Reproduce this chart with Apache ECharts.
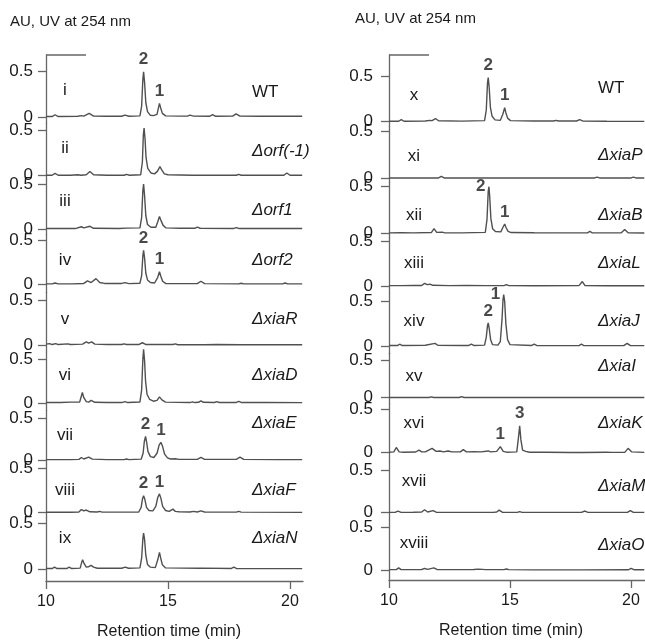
<!DOCTYPE html>
<html><head><meta charset="utf-8">
<script src="https://cdn.jsdelivr.net/npm/echarts@6/dist/echarts.min.js"></script>
<style>html,body{margin:0;padding:0;background:#fff}#c{width:645px;height:641px}</style>
</head><body><div id="c"></div>
<script>
// ---------------- DATA (retention time [min], absorbance [AU]) ----------------
const romanLeft  = ['i','ii','iii','iv','v','vi','vii','viii','ix'];
const romanRight = ['x','xi','xii','xiii','xiv','xv','xvi','xvii','xviii'];
const strainLeft  = ['WT','\u0394orf(-1)','\u0394orf1','\u0394orf2','\u0394xiaR','\u0394xiaD','\u0394xiaE','\u0394xiaF','\u0394xiaN'];
const strainRight = ['WT','\u0394xiaP','\u0394xiaB','\u0394xiaL','\u0394xiaJ','\u0394xiaI','\u0394xiaK','\u0394xiaM','\u0394xiaO'];
const xTicks = [10, 15, 20];
const yTicks = [0, 0.5];

const trace_i = [[10.0,0.005],[10.25,0.005],[10.37,0.025],[10.5,0.005],[11.3,0.008],[11.45,0.015],[11.55,0.01],[11.77,0.04],[11.95,0.01],[12.5,0.008],[13.1,0.008],[13.24,0.02],[13.4,0.008],[13.85,0.012],[13.92,0.12],[13.97,0.42],[14.0,0.5],[14.04,0.38],[14.09,0.16],[14.16,0.06],[14.27,0.02],[14.4,0.015],[14.55,0.03],[14.6,0.09],[14.65,0.15],[14.7,0.1],[14.77,0.04],[14.9,0.012],[15.5,0.01],[15.8,0.01],[15.9,0.02],[16.05,0.01],[16.7,0.008],[16.83,0.025],[16.95,0.008],[17.65,0.01],[17.79,0.035],[17.95,0.01],[18.8,0.008],[19.8,0.008],[19.86,0.015],[19.95,0.008],[20.5,0.008]];
const trace_ii = [[10.0,0.005],[10.25,0.005],[10.37,0.025],[10.5,0.005],[11.0,0.005],[11.3,0.01],[11.42,0.005],[11.65,0.01],[11.8,0.045],[11.95,0.01],[12.5,0.005],[13.2,0.005],[13.3,0.015],[13.42,0.005],[13.88,0.01],[13.95,0.15],[13.99,0.45],[14.02,0.52],[14.06,0.4],[14.1,0.2],[14.17,0.08],[14.3,0.03],[14.45,0.02],[14.57,0.05],[14.67,0.1],[14.75,0.06],[14.85,0.02],[15.0,0.01],[16.0,0.005],[17.0,0.005],[17.8,0.005],[17.9,0.015],[18.0,0.005],[19.75,0.005],[19.87,0.03],[20.0,0.005],[20.5,0.005]];
const trace_iii = [[10.0,0.005],[11.2,0.005],[11.45,0.025],[11.55,0.012],[11.8,0.03],[11.95,0.008],[13.0,0.005],[13.3,0.01],[13.85,0.012],[13.92,0.13],[13.97,0.43],[14.0,0.5],[14.04,0.37],[14.09,0.15],[14.16,0.05],[14.3,0.02],[14.5,0.02],[14.58,0.08],[14.65,0.14],[14.72,0.09],[14.8,0.04],[14.92,0.012],[15.5,0.008],[16.1,0.008],[16.2,0.02],[16.32,0.008],[17.7,0.006],[17.8,0.015],[17.9,0.006],[20.5,0.005]];
const trace_iv = [[10.0,0.005],[10.25,0.005],[10.37,0.015],[10.5,0.005],[10.9,0.005],[10.98,0.018],[11.08,0.005],[11.55,0.01],[11.7,0.04],[11.85,0.02],[12.05,0.065],[12.2,0.02],[12.4,0.01],[13.1,0.01],[13.24,0.02],[13.4,0.008],[13.85,0.012],[13.92,0.1],[13.97,0.33],[14.0,0.39],[14.04,0.3],[14.09,0.13],[14.16,0.05],[14.28,0.02],[14.45,0.015],[14.58,0.08],[14.65,0.145],[14.71,0.09],[14.78,0.035],[14.9,0.01],[16.2,0.008],[16.35,0.035],[16.5,0.008],[17.9,0.005],[18.0,0.012],[18.1,0.005],[19.7,0.005],[19.8,0.015],[19.9,0.005],[20.5,0.005]];
const trace_v = [[10.0,0.01],[10.15,0.015],[10.25,0.005],[10.4,0.015],[10.5,0.005],[10.9,0.012],[11.0,0.005],[11.5,0.01],[11.65,0.035],[11.75,0.02],[11.87,0.035],[12.0,0.01],[12.5,0.005],[13.1,0.005],[13.2,0.012],[13.3,0.005],[13.8,0.005],[13.95,0.025],[14.1,0.005],[14.7,0.005],[15.2,0.005],[15.3,0.012],[15.4,0.003],[16.5,0.003],[17.0,0.005],[18.0,0.003],[19.0,0.003],[20.5,0.002]];
const trace_vi = [[10.0,0.005],[10.6,0.005],[11.0,0.01],[11.38,0.01],[11.45,0.08],[11.49,0.12],[11.55,0.06],[11.65,0.015],[11.75,0.01],[11.85,0.03],[12.0,0.008],[12.5,0.005],[13.1,0.005],[13.24,0.015],[13.35,0.005],[13.85,0.012],[13.92,0.15],[13.97,0.5],[14.0,0.61],[14.04,0.48],[14.08,0.25],[14.14,0.1],[14.25,0.04],[14.4,0.02],[14.55,0.03],[14.65,0.07],[14.75,0.035],[14.9,0.01],[15.9,0.005],[16.0,0.012],[16.1,0.005],[16.25,0.008],[16.35,0.025],[16.45,0.008],[16.9,0.006],[17.0,0.015],[17.1,0.006],[17.8,0.006],[17.9,0.018],[18.0,0.006],[19.0,0.005],[20.5,0.004]];
const trace_vii = [[10.0,0.005],[11.0,0.005],[11.35,0.008],[11.45,0.03],[11.55,0.012],[11.75,0.035],[11.9,0.01],[12.5,0.005],[13.2,0.005],[13.3,0.012],[13.4,0.005],[13.9,0.01],[13.98,0.08],[14.03,0.22],[14.08,0.28],[14.12,0.22],[14.18,0.1],[14.28,0.04],[14.42,0.03],[14.55,0.08],[14.64,0.18],[14.71,0.21],[14.78,0.16],[14.86,0.07],[14.98,0.025],[15.1,0.012],[15.3,0.015],[15.45,0.008],[16.2,0.008],[16.35,0.03],[16.5,0.008],[17.8,0.008],[17.95,0.035],[18.1,0.008],[19.5,0.005],[20.5,0.005]];
const trace_viii = [[10.0,0.005],[11.0,0.005],[11.35,0.008],[11.45,0.035],[11.55,0.02],[11.65,0.03],[11.8,0.01],[12.1,0.008],[12.2,0.015],[12.3,0.006],[13.8,0.008],[13.9,0.06],[13.95,0.15],[14.0,0.19],[14.05,0.15],[14.12,0.06],[14.22,0.025],[14.38,0.02],[14.5,0.07],[14.58,0.17],[14.65,0.21],[14.71,0.16],[14.78,0.07],[14.9,0.025],[15.05,0.015],[15.2,0.04],[15.3,0.015],[15.45,0.01],[15.9,0.008],[16.05,0.015],[16.2,0.008],[16.35,0.02],[16.5,0.008],[17.8,0.006],[17.9,0.015],[18.0,0.006],[20.5,0.004]];
const trace_ix = [[10.0,0.005],[10.25,0.005],[10.35,0.02],[10.45,0.005],[10.85,0.005],[10.95,0.02],[11.05,0.005],[11.4,0.01],[11.46,0.07],[11.5,0.1],[11.56,0.06],[11.65,0.02],[11.75,0.025],[11.85,0.04],[11.95,0.02],[12.1,0.008],[13.1,0.008],[13.25,0.02],[13.38,0.008],[13.85,0.012],[13.92,0.12],[13.97,0.33],[14.0,0.39],[14.04,0.32],[14.09,0.15],[14.16,0.05],[14.28,0.02],[14.48,0.015],[14.58,0.1],[14.65,0.18],[14.7,0.12],[14.77,0.045],[14.9,0.012],[16.3,0.008],[16.4,0.01],[17.6,0.006],[17.7,0.02],[17.8,0.006],[20.5,0.004]];

const trace_x = [[10.0,0.005],[10.4,0.005],[10.51,0.022],[10.62,0.005],[11.5,0.008],[11.68,0.015],[11.78,0.012],[11.92,0.035],[12.05,0.01],[13.0,0.006],[13.95,0.012],[14.02,0.13],[14.07,0.43],[14.1,0.49],[14.14,0.38],[14.19,0.16],[14.26,0.06],[14.38,0.02],[14.6,0.015],[14.7,0.08],[14.78,0.155],[14.83,0.1],[14.9,0.04],[15.02,0.012],[16.0,0.008],[16.8,0.008],[16.9,0.015],[17.0,0.008],[17.75,0.008],[17.88,0.022],[18.0,0.008],[19.0,0.005],[20.55,0.004]];
const trace_xi = [[10.0,0.004],[11.0,0.004],[12.05,0.004],[12.16,0.02],[12.28,0.004],[13.0,0.003],[14.0,0.005],[15.0,0.003],[16.0,0.004],[17.0,0.003],[18.5,0.004],[18.6,0.012],[18.7,0.004],[20.0,0.004],[20.1,0.012],[20.2,0.004],[20.55,0.004]];
const trace_xii = [[10.0,0.005],[10.5,0.006],[11.0,0.005],[11.75,0.008],[11.86,0.05],[11.97,0.01],[12.2,0.012],[12.3,0.005],[13.0,0.005],[13.98,0.01],[14.05,0.15],[14.1,0.45],[14.13,0.5],[14.16,0.4],[14.21,0.16],[14.28,0.05],[14.4,0.02],[14.62,0.015],[14.7,0.06],[14.78,0.1],[14.84,0.06],[14.92,0.02],[15.05,0.008],[16.0,0.006],[17.0,0.005],[18.2,0.005],[18.3,0.02],[18.4,0.005],[19.6,0.006],[19.74,0.04],[19.88,0.006],[20.55,0.004]];
const trace_xiii = [[10.0,0.004],[10.5,0.004],[11.0,0.006],[11.35,0.006],[11.47,0.03],[11.58,0.015],[11.7,0.02],[11.8,0.008],[12.5,0.004],[13.2,0.005],[14.0,0.004],[14.75,0.004],[14.85,0.015],[14.95,0.004],[16.0,0.003],[17.85,0.004],[17.99,0.05],[18.1,0.004],[19.0,0.002],[20.55,0.002]];
const trace_xiv = [[10.0,0.005],[10.35,0.005],[10.44,0.02],[10.55,0.005],[11.5,0.008],[11.9,0.03],[12.02,0.008],[13.0,0.006],[13.3,0.006],[13.4,0.02],[13.5,0.006],[13.95,0.01],[14.02,0.1],[14.07,0.23],[14.1,0.26],[14.14,0.2],[14.2,0.07],[14.28,0.015],[14.5,0.01],[14.6,0.05],[14.67,0.3],[14.71,0.52],[14.74,0.58],[14.78,0.5],[14.83,0.25],[14.9,0.07],[15.0,0.015],[15.9,0.006],[16.0,0.02],[16.1,0.006],[17.0,0.004],[17.85,0.004],[17.95,0.02],[18.05,0.004],[19.7,0.004],[19.84,0.03],[19.98,0.004],[20.55,0.004]];
const trace_xv = [[10.0,0.003],[11.0,0.003],[11.65,0.003],[11.75,0.012],[11.85,0.003],[12.9,0.003],[13.0,0.015],[13.1,0.003],[14.0,0.003],[15.0,0.002],[16.0,0.002],[18.0,0.002],[19.0,0.002],[20.55,0.002]];
const trace_xvi = [[10.0,0.005],[10.2,0.01],[10.3,0.06],[10.42,0.01],[10.6,0.005],[11.1,0.008],[11.24,0.03],[11.35,0.01],[11.5,0.01],[11.6,0.025],[11.78,0.05],[11.95,0.015],[12.1,0.02],[12.25,0.01],[12.44,0.02],[12.6,0.01],[12.95,0.01],[13.07,0.035],[13.2,0.01],[13.5,0.012],[13.8,0.01],[14.1,0.02],[14.2,0.01],[14.45,0.015],[14.6,0.07],[14.72,0.015],[14.85,0.006],[15.28,0.01],[15.34,0.15],[15.4,0.31],[15.45,0.15],[15.52,0.03],[15.65,0.015],[15.8,0.005],[16.5,0.006],[17.5,0.003],[18.0,0.003],[19.0,0.006],[19.08,0.015],[19.18,0.004],[19.75,0.006],[19.88,0.05],[20.02,0.01],[20.55,0.004]];
const trace_xvii = [[10.0,0.004],[10.25,0.004],[10.37,0.02],[10.5,0.004],[11.0,0.006],[11.35,0.008],[11.47,0.035],[11.6,0.008],[11.82,0.025],[11.95,0.006],[12.5,0.004],[13.5,0.004],[14.3,0.004],[14.45,0.008],[14.55,0.03],[14.68,0.006],[15.3,0.004],[15.4,0.012],[15.5,0.004],[16.5,0.004],[17.95,0.004],[18.1,0.02],[18.22,0.004],[19.85,0.004],[19.97,0.025],[20.1,0.004],[20.55,0.004]];
const trace_xviii = [[10.0,0.004],[10.3,0.004],[10.4,0.025],[10.5,0.004],[11.0,0.004],[11.35,0.006],[11.47,0.018],[11.6,0.008],[11.85,0.025],[11.98,0.006],[12.5,0.004],[13.5,0.006],[13.7,0.01],[14.0,0.004],[14.75,0.004],[14.85,0.012],[14.95,0.004],[16.0,0.002],[18.0,0.002],[19.9,0.003],[20.0,0.02],[20.12,0.003],[20.55,0.003]];

// peak annotations: [panel index, time, AU, label]
const peaksLeft = [[0,14.0,0.5,'2'],[0,14.65,0.15,'1'],[3,14.0,0.39,'2'],[3,14.65,0.145,'1'],[6,14.08,0.28,'2'],[6,14.71,0.21,'1'],[7,14.0,0.19,'2'],[7,14.65,0.21,'1']];
const peaksRight = [[0,14.1,0.49,'2'],[0,14.78,0.155,'1'],[2,14.13,0.5,'2'],[2,14.78,0.1,'1'],[4,14.1,0.26,'2'],[4,14.74,0.58,'1'],[6,14.6,0.07,'1'],[6,15.4,0.31,'3']];
const peakSideRight = {'2,2':'left','4,1':'left'};

// ---------------- LAYOUT (pixels) ----------------
const FONT = '"Liberation Sans", Arial, Helvetica, sans-serif';
const columns = [
  { traces:[trace_i,trace_ii,trace_iii,trace_iv,trace_v,trace_vi,trace_vii,trace_viii,trace_ix],
    romans: romanLeft, strains: strainLeft, peaks: peaksLeft, side:{},
    zeros:[117,175.7,229,284.3,345,403,460,512.7,569],
    halves:[71.7,130,184,240.7,300,359,418,468,523],
    romanY:[90,148.3,201.7,260,319.3,375,435,490,538.3],
    strainY:[92.7,151.7,210,260,319.3,375,423.3,490,538.3],
    x0:46, x1:303, pxPerMin:24.4, top:55, bottom:581, romanX:65, strainX:252, labelMargin:13,
    title:[10,22], xname:[169,632] },
  { traces:[trace_x,trace_xi,trace_xii,trace_xiii,trace_xiv,trace_xv,trace_xvi,trace_xvii,trace_xviii],
    romans: romanRight, strains: strainRight, peaks: peaksRight, side: peakSideRight,
    zeros:[121.7,178.3,233.3,286,346,397.7,452.7,512.7,570],
    halves:[76.7,131.7,186.7,241.7,301.7,360.7,409.3,470.7,527.3],
    romanY:[95,156.7,215,263.3,321.7,376,423.3,481.7,543.3],
    strainY:[88.3,155.7,215,263.3,321.7,366.7,423.3,486,545],
    x0:389, x1:645, pxPerMin:24.2, top:55, bottom:580, romanX:414, strainX:598, labelMargin:16,
    title:[355,19], xname:[511,631] }
];

const AXIS_COLOR = '#666666';
const TRACE_COLOR = '#505050';
const TEXT_COLOR = '#1a1a1a';

const grid = [], xAxis = [], yAxis = [], series = [], graphic = [];
let gi = 0;
columns.forEach(col => {
  const xmax = 10 + (col.x1 - col.x0) / col.pxPerMin;
  for (let k = 0; k < 9; k++) {
    const z = col.zeros[k], h = col.halves[k];
    const T = k === 0 ? col.top : (col.zeros[k-1] + h) / 2;
    const B = k === 8 ? col.bottom : (z + col.halves[k+1]) / 2;
    const s = (z - h) / 0.5;
    grid.push({ left: col.x0, top: T, width: col.x1 - col.x0, height: B - T, containLabel:false, outerBoundsMode:'none' });
    const isBottom = k === 8;
    xAxis.push({
      gridIndex: gi, type:'value', min:10, max:xmax, interval:5, show:isBottom,
      axisLine:{ show:true, onZero:false, lineStyle:{ color:AXIS_COLOR, width:1.3 } },
      axisTick:{ show:true, length:8, customValues:xTicks, lineStyle:{ color:AXIS_COLOR, width:1.3 } },
      axisLabel:{ show:true, customValues:xTicks, fontSize:16, fontFamily:FONT, color:TEXT_COLOR, margin:13 },
      splitLine:{ show:false }
    });
    yAxis.push({
      gridIndex: gi, type:'value', min: -(B - z) / s, max: (z - T) / s,
      axisLine:{ show:true, onZero:false, lineStyle:{ color:AXIS_COLOR, width:1.3 } },
      axisTick:{ show:true, length:8, customValues:yTicks, lineStyle:{ color:AXIS_COLOR, width:1.3 } },
      axisLabel:{ show:true, customValues:yTicks, formatter: v => (Math.abs(v) < 1e-9 ? '0' : '0.5'),
                  fontSize:17, fontFamily:FONT, color:TEXT_COLOR, margin:col.labelMargin },
      splitLine:{ show:false }
    });
    series.push({
      type:'line', xAxisIndex:gi, yAxisIndex:gi, data:col.traces[k], symbol:'none', showSymbol:false,
      clip:false, silent:true, animation:false,
      lineStyle:{ color:TRACE_COLOR, width:1.4 }
    });
    const pk = col.peaks.filter(p => p[0] === k);
    if (pk.length) {
      series.push({
        type:'scatter', xAxisIndex:gi, yAxisIndex:gi, symbolSize:1, silent:true, animation:false,
        itemStyle:{ color:'rgba(0,0,0,0)' },
        data: pk.map(p => ({
          value:[p[1], p[2]],
          label:{ show:true, formatter:p[3], position: col.side[k + ',' + p[3]] || 'top', distance:3,
                  fontSize:17, fontWeight:'bold', fontFamily:FONT, color:TEXT_COLOR }
        }))
      });
    }
    graphic.push({ type:'text', x: col.romanX, y: col.romanY[k], silent:true,
      style:{ text: col.romans[k], font: '17px ' + FONT, fill: TEXT_COLOR, textAlign:'center', textVerticalAlign:'middle' } });
    const st = col.strains[k];
    graphic.push({ type:'text', x: col.strainX, y: col.strainY[k], silent:true,
      style:{ text: st, font: (st === 'WT' ? '' : 'italic ') + '17px ' + FONT, fill: TEXT_COLOR, textAlign:'left', textVerticalAlign:'middle' } });
    gi++;
  }
  graphic.push({ type:'line', silent:true, shape:{ x1:col.x0, y1:col.top, x2:col.x0 + 40, y2:col.top },
    style:{ stroke:AXIS_COLOR, lineWidth:1.3 } });
  graphic.push({ type:'text', x: col.title[0], y: col.title[1], silent:true,
    style:{ text:'AU, UV at 254 nm', font:'15px ' + FONT, fill:TEXT_COLOR, textAlign:'left', textVerticalAlign:'middle' } });
  graphic.push({ type:'text', x: col.xname[0], y: col.xname[1], silent:true,
    style:{ text:'Retention time (min)', font:'16px ' + FONT, fill:TEXT_COLOR, textAlign:'center', textVerticalAlign:'middle' } });
});

const chart = echarts.init(document.getElementById('c'), null, { renderer:'canvas' });
chart.setOption({ backgroundColor:'#fff', animation:false, grid, xAxis, yAxis, series, graphic });
</script>
</body></html>
